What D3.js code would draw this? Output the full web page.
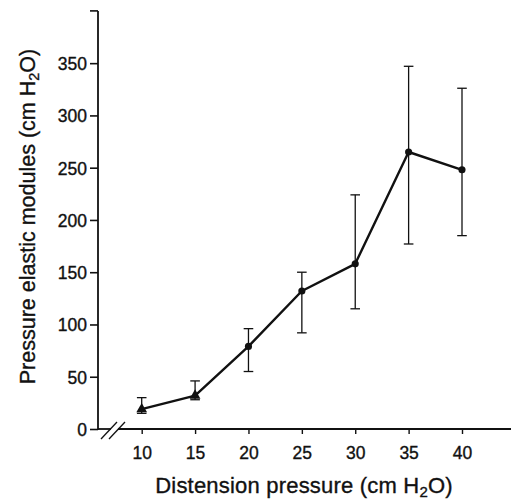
<!DOCTYPE html>
<html><head><meta charset="utf-8">
<script src="https://cdn.jsdelivr.net/npm/d3@7"></script>
<style>body{margin:0;background:#fff}svg{display:block}text{font-family:"Liberation Sans",Arial,sans-serif;fill:#111;stroke:#111;stroke-width:0.35px}</style>
</head><body>
<script>
const pressures = [10, 15, 20, 25, 30, 35, 40];
const modulus   = [19, 32, 79, 132, 158, 265, 248];
const errUpper  = [30, 46, 96, 150, 224, 347, 326];
const errLower  = [15, 28, 55, 92, 115, 177, 185];
const markers   = ["triangle", "triangle", "circle", "circle", "circle", "circle", "circle"];
const xTicks = [10, 15, 20, 25, 30, 35, 40];
const yTicks = [0, 50, 100, 150, 200, 250, 300, 350];

const W = 511, H = 501;
const svg = d3.select("body").append("svg").attr("width", W).attr("height", H);
const x = d3.scaleLinear().domain([10, 40]).range([141.7, 462]);
const y = d3.scaleLinear().domain([0, 400]).range([429, 10.9]);
const x0 = 98; // y-axis position
const ink = "#111";

// y axis
const yAx = svg.append("g").attr("transform", `translate(${x0},0)`)
  .call(d3.axisLeft(y).tickValues(yTicks).tickSize(8).tickPadding(3).tickSizeOuter(0));
yAx.select(".domain").remove();
yAx.selectAll(".tick line").attr("stroke", ink).attr("stroke-width", 1.6);
yAx.selectAll(".tick text").attr("font-size", 17.5).attr("dy", "0.36em");
yAx.append("line").attr("x1", 0).attr("x2", 0).attr("y1", y(400)).attr("y2", y(0) + 0.8)
  .attr("stroke", ink).attr("stroke-width", 1.8);
yAx.append("line").attr("x1", -8).attr("x2", 0).attr("y1", y(400)).attr("y2", y(400))
  .attr("stroke", ink).attr("stroke-width", 1.6);

// x axis
const xAx = svg.append("g").attr("transform", `translate(0,${y(0)})`)
  .call(d3.axisBottom(x).tickValues(xTicks).tickSize(5).tickPadding(13).tickSizeOuter(0));
xAx.select(".domain").remove();
xAx.selectAll(".tick line").attr("stroke", ink).attr("stroke-width", 1.4);
xAx.selectAll(".tick text").attr("font-size", 17.5);
const brk = 114;
xAx.append("line").attr("x1", x0).attr("x2", brk - 3).attr("y1", 0).attr("y2", 0).attr("stroke", ink).attr("stroke-width", 1.8);
xAx.append("line").attr("x1", brk + 4).attr("x2", W).attr("y1", 0).attr("y2", 0).attr("stroke", ink).attr("stroke-width", 1.8);
[-4, 4].forEach(o => {
  xAx.append("line").attr("x1", brk + o - 9).attr("y1", 10).attr("x2", brk + o + 7).attr("y2", -7)
    .attr("stroke", ink).attr("stroke-width", 1.3);
});

// error bars
const data = pressures.map((p, i) => ({p, m: modulus[i], hi: errUpper[i], lo: errLower[i], mk: markers[i]}));
const eb = svg.append("g").attr("stroke", ink).attr("stroke-width", 1.3).attr("fill", "none");
data.forEach(d => {
  eb.append("line").attr("x1", x(d.p)).attr("x2", x(d.p)).attr("y1", y(d.hi)).attr("y2", y(d.lo));
  [d.hi, d.lo].forEach(v => eb.append("line").attr("x1", x(d.p) - 4.8).attr("x2", x(d.p) + 4.8).attr("y1", y(v)).attr("y2", y(v)));
});

// line
svg.append("path").datum(data)
  .attr("d", d3.line().x(d => x(d.p)).y(d => y(d.m)))
  .attr("fill", "none").attr("stroke", ink).attr("stroke-width", 2.4).attr("stroke-linejoin", "round");

// markers
svg.append("g").selectAll("path").data(data).join("path")
  .attr("transform", d => `translate(${x(d.p)},${y(d.m)})`)
  .attr("d", d => d3.symbol().type(d.mk === "triangle" ? d3.symbolTriangle : d3.symbolCircle).size(d.mk === "triangle" ? 50 : 40)())
  .attr("fill", ink);

// titles
const xt = svg.append("text").attr("x", 304).attr("y", 493).attr("text-anchor", "middle").attr("font-size", 22).attr("letter-spacing", 0.2);
xt.append("tspan").text("Distension pressure (cm H");
xt.append("tspan").attr("font-size", 15).attr("dy", 4).text("2");
xt.append("tspan").attr("dy", -4).text("O)");

const yt = svg.append("text").attr("transform", "translate(35,216.5) rotate(-90)").attr("text-anchor", "middle").attr("font-size", 21.5);
yt.append("tspan").text("Pressure elastic modules (cm H");
yt.append("tspan").attr("font-size", 14.5).attr("dy", 4).text("2");
yt.append("tspan").attr("dy", -4).text("O)");
</script>
</body></html>
